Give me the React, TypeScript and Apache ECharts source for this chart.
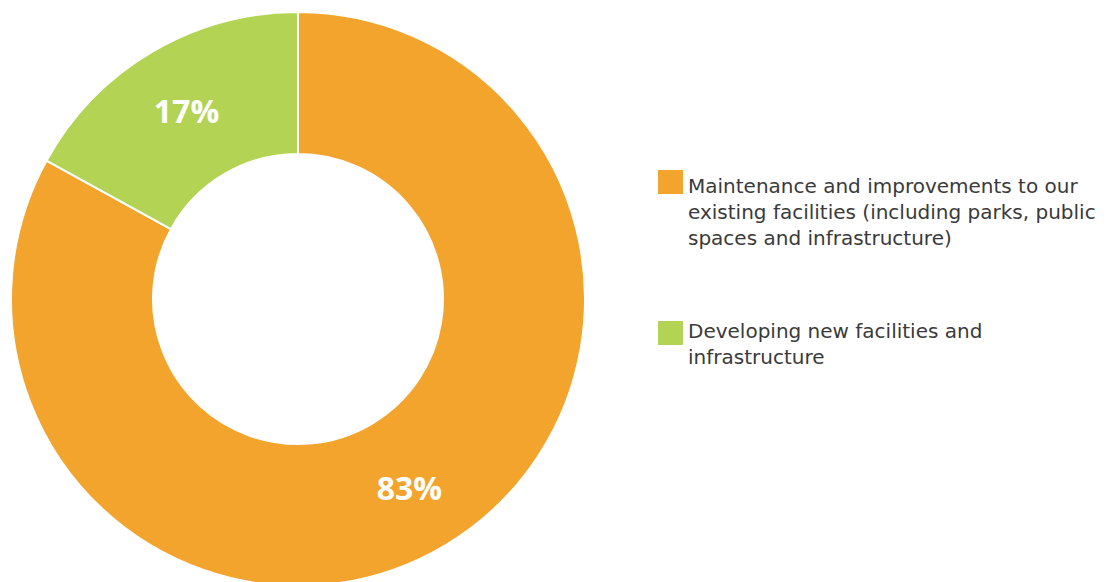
import React, { useEffect, useRef } from "react";
import * as echarts from "echarts";

const categories = [
  "Maintenance and improvements to our existing facilities (including parks, public spaces and infrastructure)",
  "Developing new facilities and infrastructure",
];
const values = [83, 17];
const colors = ["#F2A42D", "#B2D354"];
const legendLines = [
  ["Maintenance and improvements to our", "existing facilities (including parks, public", "spaces and infrastructure)"],
  ["Developing new facilities and", "infrastructure"],
];
const legendTops = [170, 321];
const legendTextCenters = [186, 331];

export default function App() {
  const ref = useRef<HTMLDivElement>(null);
  useEffect(() => {
    document.body.style.margin = "0";
    const chart = echarts.init(ref.current!, undefined, { renderer: "svg" });
    const graphic: any[] = [];
    categories.forEach((_, i) => {
      graphic.push({
        type: "rect",
        x: 658,
        y: legendTops[i],
        shape: { width: 25, height: 24 },
        style: { fill: colors[i] },
      });
      legendLines[i].forEach((line, k) => {
        graphic.push({
          type: "text",
          x: 688,
          y: legendTextCenters[i] + k * 26,
          style: {
            text: line,
            font: '20px "DejaVu Sans"',
            fill: "#3a3a3a",
            lineHeight: 22,
            verticalAlign: "middle",
            align: "left",
          },
        });
      });
    });
    chart.setOption({
      animation: false,
      graphic,
      series: [
        {
          type: "pie",
          center: [298, 299],
          radius: [145, 287],
          startAngle: 90,
          clockwise: true,
          itemStyle: { borderColor: "#ffffff", borderWidth: 2 },
          label: {
            show: true,
            position: "inside",
            formatter: "{c}%",
            color: "#ffffff",
            fontSize: 32,
            fontWeight: "bold",
            fontFamily: "Open Sans",
          },
          labelLine: { show: false },
          emphasis: { disabled: true },
          data: categories.map((name, i) => ({
            name,
            value: values[i],
            itemStyle: { color: colors[i] },
          })),
        },
      ],
    });
    return () => chart.dispose();
  }, []);
  return <div ref={ref} style={{ width: 1116, height: 582 }} />;
}
